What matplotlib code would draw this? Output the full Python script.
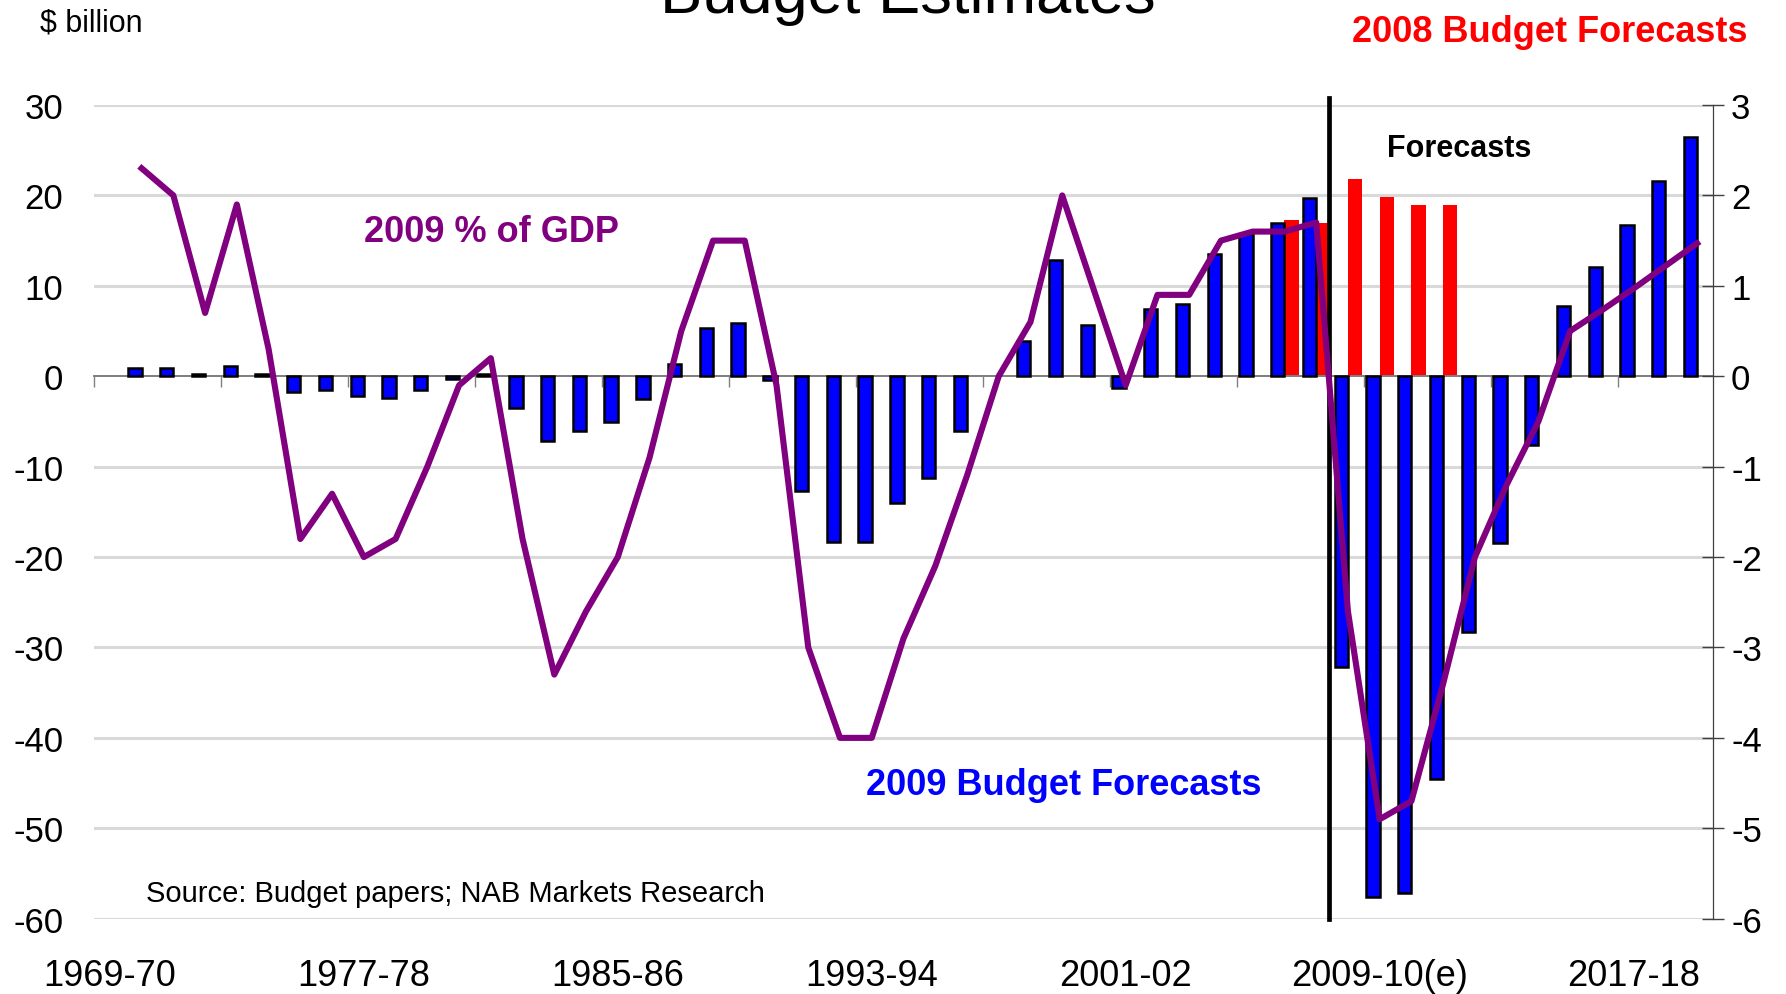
import numpy as np
import matplotlib
matplotlib.use("Agg")
import matplotlib.pyplot as plt

plt.rcParams['font.family'] = ['Liberation Sans', 'DejaVu Sans']

nan = np.nan
# Financial years 1969-70 ... 2019-20
start_years = list(range(1969, 2020))
categories = [f"{y}-{(y + 1) % 100:02d}" for y in start_years]

# 2009 Budget: underlying cash balance, $ billion (blue bars)
budget_2009 = [nan, 0.9, 0.9, 0.2, 1.1, 0.2, -1.7, -1.5, -2.2, -2.4,
               -1.5, -0.3, 0.2, -3.5, -7.2, -6.1, -5.1, -2.5, 1.4, 5.3,
               5.9, -0.45, -12.7, -18.3, -18.3, -14.0, -11.3, -6.1, nan, 3.9,
               12.85, 5.7, -1.3, 7.4, 8.0, 13.5, 15.7, 17.0, 19.7, -32.2,
               -57.6, -57.2, -44.6, -28.3, -18.4, -7.6, 7.8, 12.1, 16.7, 21.6,
               26.5]
# 2008 Budget forecasts, $ billion (red bars)
budget_2008 = [nan] * 37 + [17.3, 16.9, 21.8, 19.8, 18.95, 18.95] + [nan] * 8
# 2009 Budget, % of GDP (purple line, right axis), from 1970-71
gdp_pct = [2.3, 2.0, 0.7, 1.9, 0.3, -1.8, -1.3, -2.0, -1.8, -1.0,
           -0.1, 0.2, -1.8, -3.3, -2.6, -2.0, -0.9, 0.5, 1.5, 1.5,
           -0.1, -3.0, -4.0, -4.0, -2.9, -2.1, -1.1, 0.0, 0.6, 2.0,
           0.95, -0.1, 0.9, 0.9, 1.5, 1.6, 1.6, 1.7, -2.6, -4.9,
           -4.7, -3.4, -2.0, -1.2, -0.5, 0.5, 0.73, 0.97, 1.22, 1.47]
tick_labels = ['1969-70', '1977-78', '1985-86', '1993-94', '2001-02', '2009-10(e)', '2017-18']
left_ticks = list(range(-60, 31, 10))
right_ticks = list(range(-6, 4))

W, H = 1786, 995
fig = plt.figure(figsize=(W / 100, H / 100), dpi=100)
ax = fig.add_axes([94 / W, 1 - 919.7 / H, (1713 - 94) / W, (919.7 - 106) / H])

x = np.arange(len(categories))
ax.set_xlim(-0.5, len(categories) - 0.5)
ax.set_ylim(-60, 30)

for v in left_ticks:
    if v != 0:
        ax.axhline(v, color='#d9d9d9', lw=2.2, zorder=1)
ax.axhline(0, color='#808080', lw=1.4, zorder=2)

ax.bar(x - 0.21, budget_2009, width=0.42, color='#0000FF', edgecolor='black',
       linewidth=1.8, zorder=3)
ax.bar(x + 0.225, budget_2008, width=0.45, color='#FF0000', zorder=2.5)

ax.plot([38.39, 38.39], [-60, 30.75], color='black', lw=3.4, zorder=4, clip_on=False)

for s in ['top', 'left', 'right']:
    ax.spines[s].set_visible(False)
ax.spines['bottom'].set_position(('data', 0))
ax.spines['bottom'].set_color('#808080')
ax.spines['bottom'].set_linewidth(1.4)
ax.set_xticks(np.arange(-0.5, len(categories) - 1, 4))
ax.set_xticklabels([])
ax.tick_params(axis='x', direction='out', length=8, width=1, color='#808080')

ax.set_yticks(left_ticks)
ax.set_yticklabels([str(v) for v in left_ticks])
ax.tick_params(axis='y', length=0, pad=22, labelsize=25)

for lab in tick_labels:
    idx = categories.index(lab.replace('(e)', ''))
    ax.text(idx, -0.0815, lab, transform=ax.get_xaxis_transform(), ha='center',
            va='baseline', fontsize=26)

ax2 = ax.twinx()
ax2.set_ylim(-6, 3)
ax2.set_yticks(right_ticks)
ax2.set_yticklabels([str(v) for v in right_ticks])
for s in ['top', 'left', 'bottom']:
    ax2.spines[s].set_visible(False)
ax2.spines['right'].set_color('#404040')
ax2.spines['right'].set_linewidth(0.9)
ax2.tick_params(axis='y', direction='inout', length=16, width=1, color='#404040',
                pad=5, labelsize=25)
ax2.plot(x[1:], gdp_pct, color='#800080', lw=4.4, zorder=5)

fig.text(908 / W, 1 - 13 / H, 'Budget Estimates', ha='center', va='baseline', fontsize=45.5)
fig.text(40 / W, 1 - 31 / H, '$ billion', ha='left', va='baseline', fontsize=22)
fig.text(1748 / W, 1 - 41.7 / H, '2008 Budget Forecasts', ha='right', va='baseline',
         fontsize=26, fontweight='bold', color='#FF0000')
fig.text(1459 / W, 1 - 157 / H, 'Forecasts', ha='center', va='baseline',
         fontsize=22, fontweight='bold', color='black')
fig.text(491 / W, 1 - 241.5 / H, '2009 % of GDP', ha='center', va='baseline',
         fontsize=26, fontweight='bold', color='#800080')
fig.text(1064 / W, 1 - 795 / H, '2009 Budget Forecasts', ha='center', va='baseline',
         fontsize=26, fontweight='bold', color='#0000FF')
fig.text(146 / W, 1 - 902 / H, 'Source: Budget papers; NAB Markets Research', ha='left',
         va='baseline', fontsize=21)

fig.savefig('out.png', dpi=100)
